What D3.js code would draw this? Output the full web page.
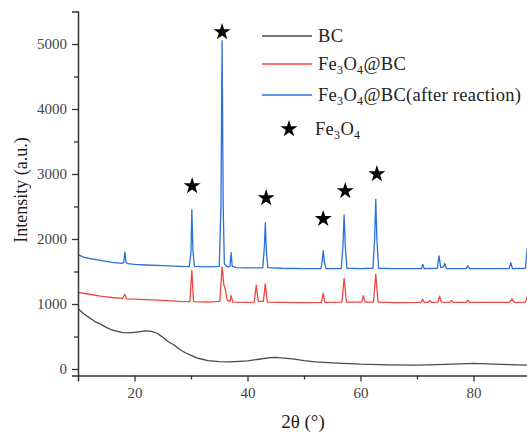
<!DOCTYPE html>
<html>
<head>
<meta charset="utf-8">
<script src="https://cdn.jsdelivr.net/npm/d3@7"></script>
<style>
  body { margin: 0; background: #fff; }
  svg { display: block; }
</style>
</head>
<body>
<div id="chart"></div>
<script>
// XRD patterns, [2theta, intensity]
const bcSeries = [[10,930],[11,850],[12,790],[13,730],[14,690],[15,640],[16,600],[17,580],[18,560],[19,555],[20,565],[21,575],[22,585],[23,580],[24,550],[25,490],[26,420],[27,370],[28,300],[29,250],[30,210],[31,170],[32,150],[33,130],[35,115],[37,110],[40,125],[42,150],[44,175],[45,180],[46,170],[48,155],[50,130],[52,110],[55,95],[60,75],[65,65],[70,60],[75,70],[80,85],[85,70],[90,60]];

const feSeries = [[10,1180],[12,1150],[14,1120],[16,1100],[17.9,1085],[18.3,1150],[18.6,1080],[20,1075],[24,1060],[28,1040],[29.8,1035],[30.15,1520],[30.45,1035],[33,1030],[35.1,1040],[35.5,1570],[35.8,1300],[36.1,1215],[36.4,1060],[36.9,1035],[37.1,1130],[37.4,1030],[40,1025],[41.2,1030],[41.55,1290],[41.9,1040],[42.8,1040],[43.15,1310],[43.5,1030],[46,1025],[50,1020],[53.1,1025],[53.4,1165],[53.7,1025],[56.7,1030],[57.1,1395],[57.5,1030],[60.2,1030],[60.5,1130],[60.8,1030],[62.3,1030],[62.7,1460],[63.1,1030],[66,1020],[70.7,1025],[71.0,1070],[71.3,1025],[72.0,1025],[72.3,1055],[72.6,1025],[73.7,1030],[74.0,1120],[74.3,1030],[75.8,1025],[76.1,1055],[76.4,1025],[78.7,1025],[79.0,1060],[79.3,1025],[86.4,1025],[86.8,1080],[87.2,1025],[89.2,1030],[89.5,1110],[89.8,1040],[90,1030]];

const afterSeries = [[10,1760],[11,1720],[12,1700],[14,1670],[16,1640],[17.8,1625],[18.1,1640],[18.3,1800],[18.5,1640],[18.8,1620],[20,1610],[22,1600],[25,1590],[28,1580],[29.7,1575],[30.0,1800],[30.15,2450],[30.35,1800],[30.6,1580],[33,1570],[35.0,1580],[35.3,2500],[35.5,5050],[35.7,2500],[35.9,1620],[36.5,1570],[36.9,1580],[37.1,1790],[37.3,1580],[38,1560],[40,1555],[42.7,1555],[43.0,1900],[43.15,2250],[43.35,1800],[43.6,1560],[46,1550],[50,1545],[53,1545],[53.2,1650],[53.4,1820],[53.6,1650],[53.9,1545],[56.6,1545],[56.9,1900],[57.1,2370],[57.3,1900],[57.6,1550],[60,1545],[62.2,1550],[62.5,2000],[62.7,2610],[62.9,2000],[63.2,1550],[66,1545],[70.8,1545],[71.0,1610],[71.3,1545],[73.6,1550],[73.9,1740],[74.2,1560],[74.7,1570],[74.9,1625],[75.2,1545],[78.7,1545],[79.0,1585],[79.3,1545],[86.3,1545],[86.6,1635],[86.9,1545],[89.2,1550],[89.5,1850],[89.8,1600],[90,1550]];

// Fe3O4 reflection markers
const starPoints = [[30.2,2815],[35.5,5185],[43.3,2630],[53.4,2310],[57.3,2740],[62.9,3000]];

const xTicks = [20, 40, 60, 80];
const yTicks = [0, 1000, 2000, 3000, 4000, 5000];

const width = 527, height = 432;
const margin = {top: 11.5, left: 78, bottom: 56.5};
const serif = 'Liberation Serif';

const svg = d3.select('#chart').append('svg')
  .attr('width', width)
  .attr('height', height)
  .attr('font-family', serif);

const x = d3.scaleLinear().domain([10, 90]).range([margin.left, 530]);
const y = d3.scaleLinear().domain([-100, 5500]).range([height - margin.bottom, margin.top]);

const line = d3.line().x(d => x(d[0])).y(d => y(d[1]));

const series = [
  {data: bcSeries, color: '#4a4a4a'},
  {data: feSeries, color: '#f04646'},
  {data: afterSeries, color: '#2a6fdf'}
];

series.forEach(s => {
  svg.append('path')
    .datum(s.data)
    .attr('fill', 'none')
    .attr('stroke', s.color)
    .attr('stroke-width', 1.3)
    .attr('stroke-linejoin', 'round')
    .attr('d', line);
});

const star = d3.symbol().type(d3.symbolStar).size(90);
svg.selectAll('.star')
  .data(starPoints)
  .enter().append('path')
  .attr('class', 'star')
  .attr('d', star)
  .attr('fill', '#000')
  .attr('transform', d => 'translate(' + x(d[0]) + ',' + y(d[1]) + ')');

// axes
svg.append('g')
  .attr('transform', 'translate(0,' + (height - margin.bottom) + ')')
  .call(d3.axisBottom(x).tickValues(xTicks).tickSize(6).tickPadding(6).tickFormat(d3.format('d')));
svg.append('g')
  .attr('transform', 'translate(0,' + (height - margin.bottom) + ')')
  .call(d3.axisBottom(x).tickValues([30, 50, 70]).tickSize(4).tickFormat(''))
  .select('.domain').remove();

svg.append('g')
  .attr('transform', 'translate(' + margin.left + ',0)')
  .call(d3.axisLeft(y).tickValues(yTicks).tickSize(6).tickPadding(5).tickFormat(d3.format('d')));
svg.append('g')
  .attr('transform', 'translate(' + margin.left + ',0)')
  .call(d3.axisLeft(y).tickValues([500, 1500, 2500, 3500, 4500]).tickSize(4).tickFormat(''))
  .select('.domain').remove();

svg.selectAll('g').attr('font-family', serif);
svg.selectAll('.domain').attr('stroke', '#333').attr('stroke-width', 1.5);
svg.selectAll('.tick line').attr('stroke', '#333').attr('stroke-width', 1.3);
svg.selectAll('.tick text')
  .attr('font-family', serif)
  .attr('font-size', 15)
  .attr('fill', '#444');

svg.append('text')
  .attr('x', 303)
  .attr('y', 428)
  .attr('text-anchor', 'middle')
  .attr('font-family', serif)
  .attr('font-size', 19)
  .attr('fill', '#222')
  .text('2θ (°)');

svg.append('text')
  .attr('transform', 'translate(27,190) rotate(-90)')
  .attr('text-anchor', 'middle')
  .attr('font-family', serif)
  .attr('font-size', 18)
  .attr('fill', '#222')
  .text('Intensity (a.u.)');

// legend
function feText (sel, rest) {
  sel.append('tspan').text('Fe');
  sel.append('tspan').attr('font-size', 12).attr('dy', 4).text('3');
  sel.append('tspan').attr('dy', -4).text('O');
  sel.append('tspan').attr('font-size', 12).attr('dy', 4).text('4');
  if (rest) sel.append('tspan').attr('dy', -4).text(rest);
}

const legendRows = [
  {y: 36, color: '#4a4a4a', label: 'BC'},
  {y: 64, color: '#f04646', fe: '@BC'},
  {y: 95, color: '#2a6fdf', fe: '@BC(after reaction)'}
];

legendRows.forEach(r => {
  svg.append('line')
    .attr('x1', 262).attr('x2', 312)
    .attr('y1', r.y).attr('y2', r.y)
    .attr('stroke', r.color)
    .attr('stroke-width', 1.3);
  const t = svg.append('text')
    .attr('x', 318)
    .attr('y', r.y + 6)
    .attr('font-family', serif)
    .attr('font-size', 18.5)
    .attr('letter-spacing', 0.3)
    .attr('fill', '#222');
  if (r.label) t.text(r.label);
  else feText(t, r.fe);
});

svg.append('path')
  .attr('d', star)
  .attr('fill', '#000')
  .attr('transform', 'translate(289,129)');
feText(svg.append('text')
  .attr('x', 315)
  .attr('y', 135)
  .attr('font-family', serif)
  .attr('font-size', 18.5)
  .attr('letter-spacing', 0.3)
  .attr('fill', '#222'));
</script>
</body>
</html>
